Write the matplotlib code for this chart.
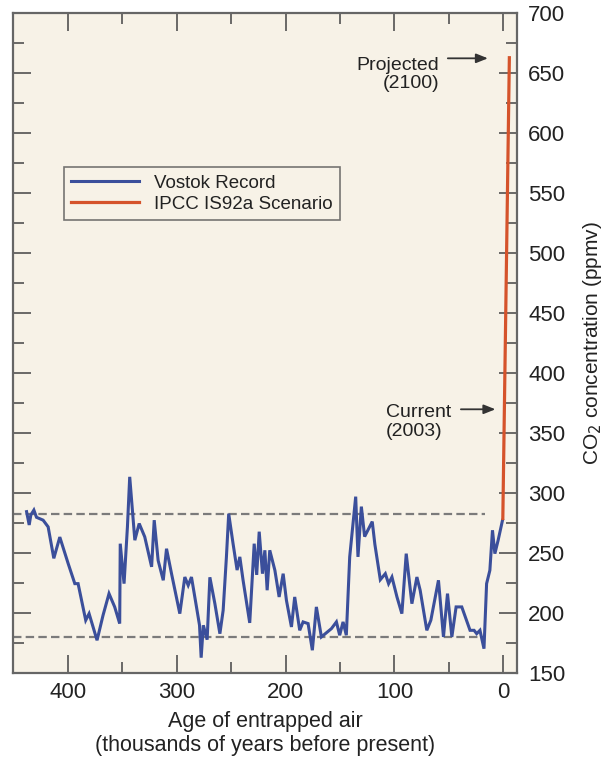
import matplotlib
matplotlib.use("Agg")
import matplotlib.pyplot as plt
from matplotlib.ticker import MultipleLocator

plt.rcParams["font.family"] = ["Liberation Sans", "DejaVu Sans"]

# Vostok ice-core CO2 record (age in kyr before present, ppmv)
VOSTOK_AGE = [
    437.8, 435.4, 433.9, 431.1, 428.7, 422.6, 418.0, 412.8, 407.3, 399.6,
    393.5, 390.5, 383.5, 380.4, 373.1, 367.6, 362.1, 356.9, 352.3, 351.8,
    348.3, 345.2, 343.1, 338.4, 334.4, 329.3, 323.0, 320.6, 317.0, 312.3,
    309.3, 304.7, 297.1, 292.5, 289.4, 286.4, 281.8, 279.0, 277.5, 275.5,
    272.0, 269.5, 264.9, 260.3, 257.3, 254.3, 252.2, 248.2, 244.5, 242.0,
    239.0, 232.9, 228.8, 226.5, 224.2, 221.2, 219.0, 216.9, 214.5, 209.8,
    205.9, 202.2, 199.2, 194.6, 191.6, 187.0, 183.9, 179.3, 175.4, 171.7,
    167.1, 157.9, 153.3, 150.3, 147.2, 144.2, 141.1, 135.6, 133.5, 130.4,
    127.4, 120.4, 118.0, 113.0, 108.4, 105.4, 102.3, 97.7, 93.2, 89.2,
    84.0, 79.4, 76.4, 70.3, 66.6, 59.6, 55.0, 51.3, 47.3, 43.4,
    38.2, 30.6, 26.9, 24.5, 21.5, 17.8, 15.4, 12.4, 10.0, 7.8,
    4.8, 0.8,
]
VOSTOK_CO2 = [
    284.7, 273.6, 281.9, 286.0, 280.0, 277.6, 272.0, 245.8, 263.5, 241.4,
    224.7, 224.7, 194.2, 199.7, 177.5, 198.3, 216.4, 205.3, 191.4, 258.0,
    224.7, 272.0, 313.7, 260.9, 274.8, 263.7, 238.7, 277.6, 244.0, 227.5,
    253.8, 233.0, 199.7, 230.2, 223.3, 230.2, 205.3, 190.0, 163.0, 190.0,
    178.0, 230.0, 208.0, 183.0, 202.5, 247.0, 283.0, 258.0, 236.0, 247.0,
    227.5, 192.0, 258.0, 232.0, 268.0, 233.0, 252.5, 219.2, 252.5, 235.8,
    213.6, 233.0, 210.8, 188.6, 213.6, 185.8, 192.8, 191.4, 169.2, 205.3,
    180.3, 187.2, 192.8, 181.7, 192.8, 181.7, 247.0, 297.2, 247.0, 288.9,
    263.9, 276.4, 257.5, 228.0, 233.0, 224.7, 230.2, 213.6, 199.7, 249.7,
    208.0, 230.2, 219.2, 185.8, 194.2, 227.5, 180.3, 216.4, 180.3, 205.3,
    205.3, 185.8, 185.8, 183.0, 185.8, 170.5, 224.7, 235.8, 269.2, 249.7,
    260.9, 277.5,
]

# IPCC IS92a projection, present day to 2100
IPCC_AGE = [0.5, -5.5]
IPCC_CO2 = [279.0, 663.0]

# interglacial / glacial reference levels
UPPER_LEVEL = 283.0
LOWER_LEVEL = 180.0
LEVEL_SPAN = (450.0, 17.0)

BLUE = "#3b4f9b"
RED = "#d5532b"
SPINE = "#666666"
TEXT = "#222222"

fig = plt.figure(figsize=(6.07, 7.57), dpi=100)
ax = fig.add_axes([0.0219, 0.1106, 0.8298, 0.8718])
ax.set_facecolor("#f7f2e7")

for lvl in (UPPER_LEVEL, LOWER_LEVEL):
    ax.plot(LEVEL_SPAN, (lvl, lvl), color="#7b7b7b", lw=1.6,
            linestyle=(0, (3.8, 1.9)), zorder=2)

ax.plot(VOSTOK_AGE, VOSTOK_CO2, color=BLUE, lw=2.2, solid_joinstyle="miter",
        label="Vostok Record", zorder=3)
ax.plot(IPCC_AGE, IPCC_CO2, color=RED, lw=2.3, label="IPCC IS92a Scenario",
        zorder=4)

ax.set_xlim(450, -12.5)
ax.set_ylim(150, 700)

# ticks: inward on every side, labels only bottom and right
ax.xaxis.set_major_locator(MultipleLocator(100))
ax.xaxis.set_minor_locator(MultipleLocator(50))
ax.yaxis.set_major_locator(MultipleLocator(50))
ax.yaxis.set_minor_locator(MultipleLocator(25))
ax.tick_params(which="both", direction="in", top=True, bottom=True,
               left=True, right=True, labelleft=False, labelright=True,
               color="#444444", width=1.1)
ax.tick_params(which="major", length=13)
ax.tick_params(which="minor", length=8)
ax.tick_params(axis="x", which="major", labelsize=16, pad=6, labelcolor=TEXT)
ax.tick_params(axis="y", which="major", labelsize=16, pad=8, labelcolor=TEXT)

for sp in ax.spines.values():
    sp.set_color(SPINE)
    sp.set_linewidth(1.6)

ax.set_xlabel("Age of entrapped air\n(thousands of years before present)",
              fontsize=15.5, color=TEXT, linespacing=1.2, labelpad=6)
ax.yaxis.set_label_position("right")
ax.set_ylabel("CO$_2$ concentration (ppmv)", fontsize=15, color=TEXT,
              labelpad=11)

leg = ax.legend(loc="upper left", bbox_to_anchor=(0.1, 0.767), fontsize=13.5,
                frameon=True, fancybox=False, handlelength=3.6,
                handletextpad=0.8, borderpad=0.4, labelspacing=0.2,
                borderaxespad=0)
leg.get_frame().set_edgecolor("#555555")
leg.get_frame().set_linewidth(1.2)
leg.get_frame().set_facecolor("#f7f2e7")
for t in leg.get_texts():
    t.set_color(TEXT)

# callouts: two-line label with a horizontal arrow toward the red line
arrow = dict(arrowstyle="-|>,head_length=0.7,head_width=0.28",
             color="#333333", lw=1.3, shrinkA=0, shrinkB=0)
ax.text(59, 649, "Projected\n(2100)", ha="right", va="center",
        multialignment="right", fontsize=14, color=TEXT, linespacing=1.1)
ax.annotate("", xy=(14.2, 662.5), xytext=(51, 662.5), arrowprops=arrow)
ax.text(48, 359.5, "Current\n(2003)", ha="right", va="center",
        multialignment="left", fontsize=14, color=TEXT, linespacing=1.1)
ax.annotate("", xy=(7.3, 370), xytext=(39, 370), arrowprops=arrow)

fig.savefig("out.png", dpi=100, facecolor="white")
